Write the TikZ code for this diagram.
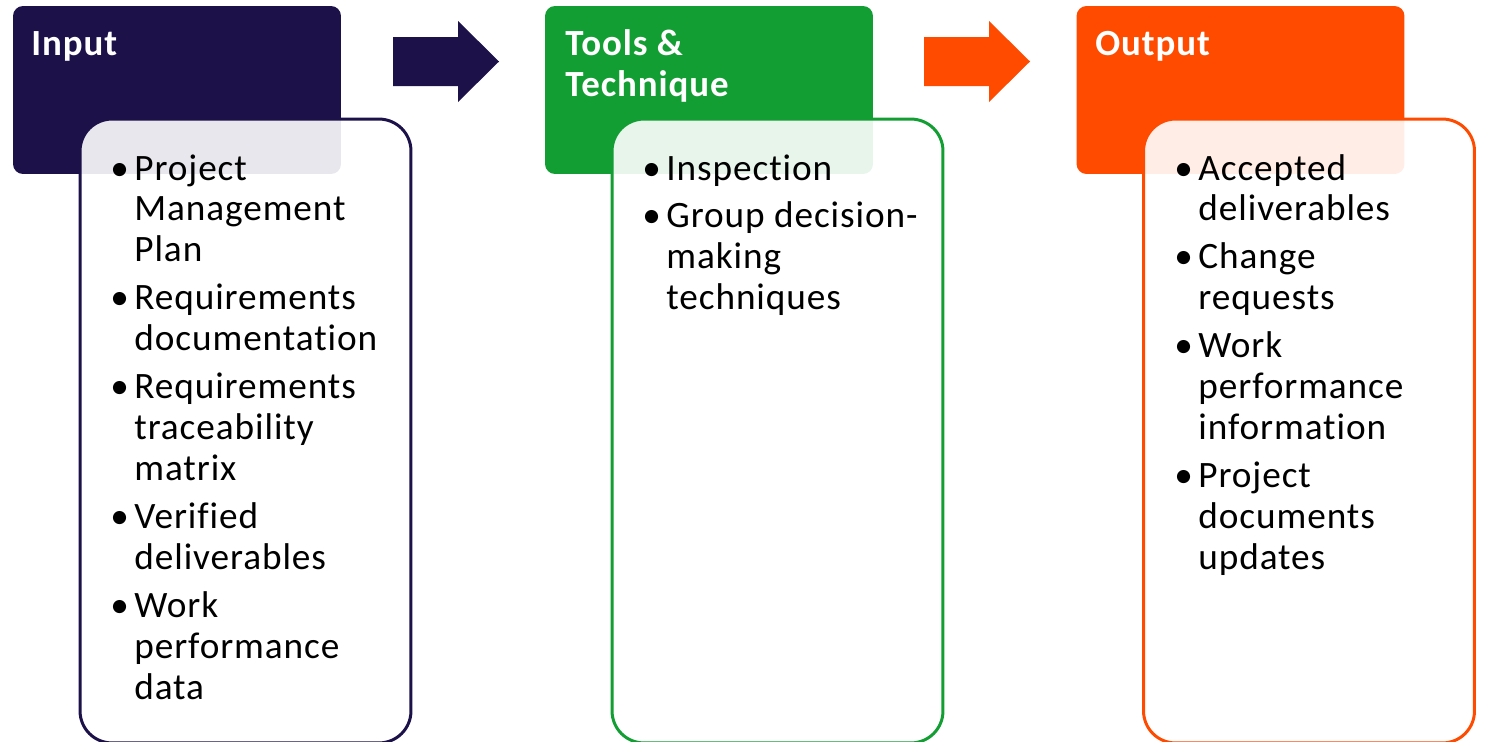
\documentclass[tikz,border=0pt]{standalone}
\usepackage{fontspec}
\setmainfont{Carlito}[Ligatures={NoCommon},LetterSpace=2.5]
\definecolor{navy}{HTML}{1C1149}
\definecolor{leaf}{HTML}{139E34}
\definecolor{flame}{HTML}{FF4B00}
\newcommand{\bul}{\textbullet}
\begin{document}
\begin{tikzpicture}[x=0.02cm,y=-0.02cm,
    head/.style={fill=#1,rounded corners=0.2cm,minimum width=6.56cm,minimum height=3.36cm,inner sep=0,outer sep=0},
    card/.style={draw=#1,line width=1.7pt,fill=white,fill opacity=0.9,rounded corners=0.64cm,minimum width=6.62cm,minimum height=12.48cm,inner sep=0},
    title/.style={text=white,font=\fontsize{21}{23.9}\selectfont\bfseries,anchor=base west,inner sep=0},
    list/.style={font=\fontsize{21.2}{23.3}\selectfont,anchor=base west,inner sep=0}]
  \useasboundingbox (0,0) rectangle (1486,741);
  % headers
  \node[head=navy] (inhead) at (177,90) {};
  \node[head=leaf] (tthead) at (709,90) {};
  \node[head=flame] (outhead) at (1240.5,90) {};
  % block arrows
  \foreach \xa/\col in {393/navy,924/flame}
    \fill[\col] (\xa,37) -- (\xa+65,37) -- (\xa+65,21) -- (\xa+106,61.5)
      -- (\xa+65,102) -- (\xa+65,86) -- (\xa,86) -- cycle;
  % cards
  \node[card=navy] (inbox) at (245.5,431) {};
  \node[card=leaf] (ttbox) at (777.5,431) {};
  \node[card=flame] (outbox) at (1309,431) {};
  % titles
  \node[title] (intitle) at (31,55) {Input};
  \node[title] (tttitle) at (565,55) {\begin{tabular}[t]{@{}l@{}}Tools \&\\Technique\end{tabular}};
  \node[title] (outtitle) at (1095,55) {Output};
  % lists
  \node[list] (inlist) at (110,180) {\begin{tabular}[t]{@{}p{0.48cm}@{}l@{}}
    \bul & Project\\ & Management\\ & Plan\\[0.14cm]
    \bul & Requirements\\ & documentation\\[0.14cm]
    \bul & Requirements\\ & traceability\\ & matrix\\[0.14cm]
    \bul & Verified\\ & deliverables\\[0.14cm]
    \bul & Work\\ & performance\\ & data
  \end{tabular}};
  \node[list] (ttlist) at (642,180) {\begin{tabular}[t]{@{}p{0.48cm}@{}l@{}}
    \bul & Inspection\\[0.14cm]
    \bul & Group decision-\\ & making\\ & techniques
  \end{tabular}};
  \node[list] (outlist) at (1174,180) {\begin{tabular}[t]{@{}p{0.48cm}@{}l@{}}
    \bul & Accepted\\ & deliverables\\[0.14cm]
    \bul & Change\\ & requests\\[0.14cm]
    \bul & Work\\ & performance\\ & information\\[0.14cm]
    \bul & Project\\ & documents\\ & updates
  \end{tabular}};
\end{tikzpicture}
\end{document}
